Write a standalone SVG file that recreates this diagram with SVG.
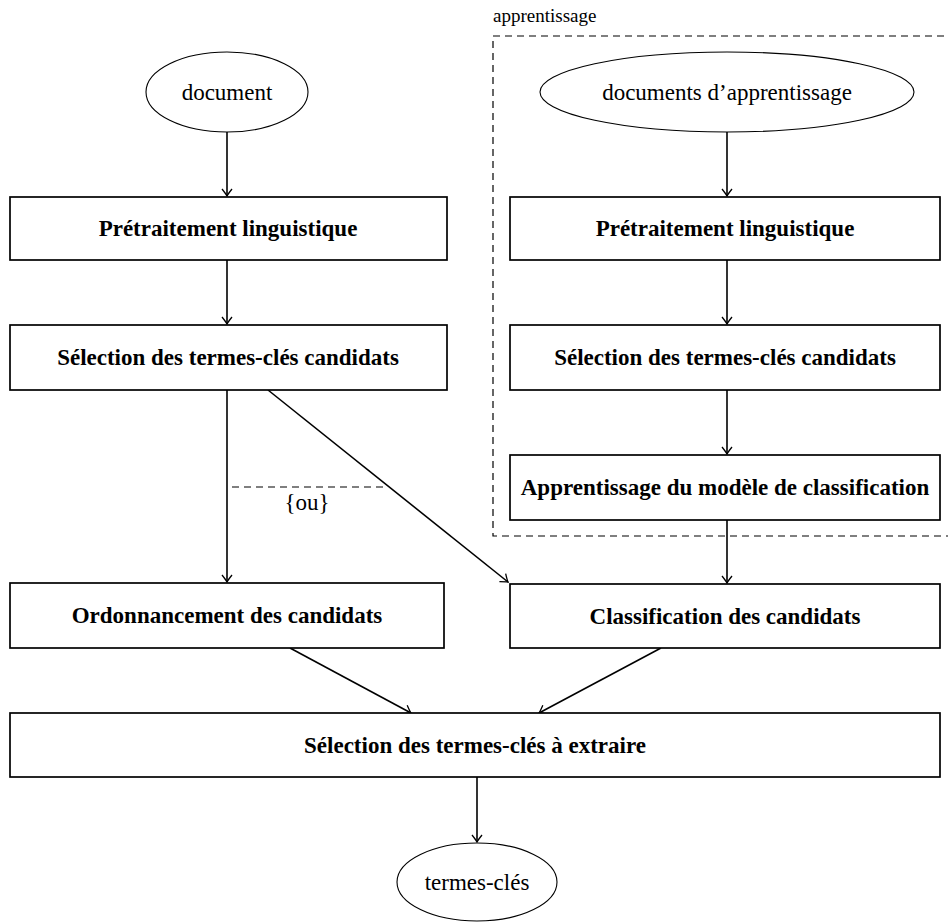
<svg xmlns="http://www.w3.org/2000/svg" width="948" height="922" viewBox="0 0 948 922">
<style>
.box{fill:#fff;stroke:#000;stroke-width:1.7}
.ell{fill:#fff;stroke:#000;stroke-width:1.1}
.b{font-family:"Liberation Serif",serif;font-weight:bold;font-size:23px;text-anchor:middle}
.n{font-family:"Liberation Serif",serif;font-size:23px;text-anchor:middle}
.c{stroke:#000;stroke-width:1.6;fill:none;marker-end:url(#ah)}
.d{stroke:#000;stroke-width:1.2;fill:none;stroke-dasharray:7,5}
</style>
<defs>
<marker id="ah" viewBox="-9 -6 11 12" refX="0" refY="0" markerWidth="11" markerHeight="12" markerUnits="userSpaceOnUse" orient="auto">
<path d="M-7,-5 Q-2,-1 0,0 Q-2,1 -7,5" fill="none" stroke="#000" stroke-width="1.3"/>
</marker>
</defs>
<rect width="948" height="922" fill="#fff"/>
<g id="cluster-apprentissage">
<rect x="493" y="36" width="460" height="500" class="d"/>
<text x="493" y="22" font-family="Liberation Serif,serif" font-size="19">apprentissage</text>
</g>
<g id="connectors">
<line x1="227" y1="132" x2="227" y2="196" class="c"/>
<line x1="227" y1="260" x2="227" y2="324" class="c"/>
<line x1="227" y1="390" x2="227" y2="582" class="c"/>
<line x1="268" y1="390" x2="508" y2="582" class="c"/>
<line x1="727" y1="132" x2="727" y2="196" class="c"/>
<line x1="727" y1="260" x2="727" y2="324" class="c"/>
<line x1="727" y1="390" x2="727" y2="454" class="c"/>
<line x1="727" y1="520" x2="727" y2="583" class="c"/>
<line x1="290" y1="648" x2="411" y2="713" class="c"/>
<line x1="661" y1="648" x2="539" y2="713" class="c"/>
<line x1="477" y1="777" x2="477" y2="842" class="c"/>
<line x1="232" y1="487" x2="388" y2="487" class="d"/>
<text x="307" y="510" class="n" font-size="20">{ou}</text>
</g>
<g id="document"><ellipse cx="227" cy="92" rx="81" ry="40" class="ell"/><text x="227" y="100" class="n">document</text></g>
<g id="pre-left"><rect x="10" y="197" width="437" height="63" class="box"/><text x="228" y="236" class="b">Prétraitement linguistique</text></g>
<g id="sel-left"><rect x="10" y="325" width="437" height="65" class="box"/><text x="228" y="365" class="b">Sélection des termes-clés candidats</text></g>
<g id="ordonnancement"><rect x="10" y="583" width="434" height="65" class="box"/><text x="227" y="623" class="b">Ordonnancement des candidats</text></g>
<g id="docs-app"><ellipse cx="727" cy="92" rx="187" ry="40" class="ell"/><text x="727" y="100" class="n">documents d’apprentissage</text></g>
<g id="pre-right"><rect x="510" y="197" width="430" height="63" class="box"/><text x="725" y="236" class="b">Prétraitement linguistique</text></g>
<g id="sel-right"><rect x="510" y="325" width="430" height="65" class="box"/><text x="725" y="365" class="b">Sélection des termes-clés candidats</text></g>
<g id="apprentissage"><rect x="510" y="455" width="430" height="65" class="box"/><text x="725" y="495" class="b">Apprentissage du modèle de classification</text></g>
<g id="classification"><rect x="510" y="584" width="430" height="64" class="box"/><text x="725" y="624" class="b">Classification des candidats</text></g>
<g id="sel-extraire"><rect x="10" y="713" width="930" height="64" class="box"/><text x="475" y="753" class="b">Sélection des termes-clés à extraire</text></g>
<g id="termes-cles"><ellipse cx="477" cy="882" rx="80" ry="39" class="ell"/><text x="477" y="890" class="n">termes-clés</text></g>
</svg>
